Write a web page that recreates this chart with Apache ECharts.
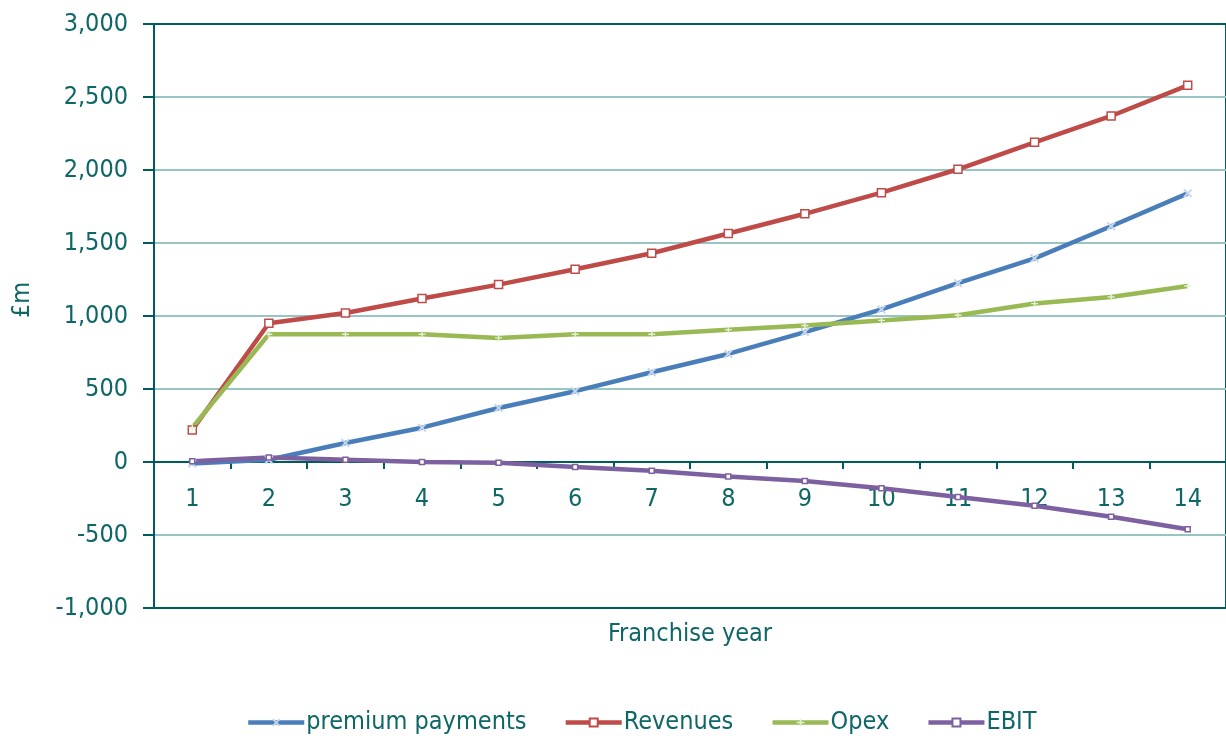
<!DOCTYPE html>
<html>
<head>
<meta charset="utf-8">
<script src="https://cdn.jsdelivr.net/npm/echarts@6/dist/echarts.min.js"></script>
<style>
html,body{margin:0;padding:0;background:#fff;}
#chart{width:1226px;height:736px;}
</style>
</head>
<body>
<div id="chart"></div>
<script>
const categories = ['1','2','3','4','5','6','7','8','9','10','11','12','13','14'];
const premiumPayments = [-10, 15, 130, 235, 370, 485, 615, 740, 890, 1045, 1225, 1395, 1615, 1840];
const revenues = [220, 950, 1020, 1120, 1215, 1320, 1430, 1565, 1700, 1845, 2005, 2190, 2370, 2580];
const opex = [235, 875, 875, 875, 850, 875, 875, 905, 935, 970, 1005, 1085, 1130, 1205];
const ebit = [5, 30, 15, 0, -5, -35, -60, -100, -130, -180, -240, -300, -375, -460];
const seriesNames = ['premium payments', 'Revenues', 'Opex', 'EBIT'];
const yMin = -1000, yMax = 3000, yStep = 500;

const FONT = '"DejaVu Sans Condensed", "DejaVu Sans", sans-serif';
const TEXT = '#0e6666';
const AXIS = '#005c5c';
const GRID = '#98c5c3';

const xSym = 'path://M0,1.5L1.5,0L5,3.5L8.5,0L10,1.5L6.5,5L10,8.5L8.5,10L5,6.5L1.5,10L0,8.5L3.5,5Z';
const plusSym = 'path://M4,0L6,0L6,4L10,4L10,6L6,6L6,10L4,10L4,6L0,6L0,4L4,4Z';

function mk(name, data, color, symbol, size, fill) {
  return {
    name: name, type: 'line', data: data,
    symbol: symbol, symbolSize: size, showSymbol: true,
    lineStyle: {color: color, width: 4.5},
    itemStyle: {color: fill, borderColor: color, borderWidth: symbol.startsWith('path') ? 0 : 1.5},
    color: color,
    z: 3
  };
}

const nLines = Math.round((yMax - yMin) / yStep) + 1;
const splitColors = [];
for (let i = 0; i < nLines; i++) splitColors.push(i === 0 || i === nLines - 1 ? AXIS : GRID);

const chart = echarts.init(document.getElementById('chart'), null, {renderer: 'canvas'});
chart.setOption({
  animation: false,
  backgroundColor: '#ffffff',
  grid: {left: 154, right: 0, top: 24, bottom: 128, containLabel: false, outerBoundsMode: 'none',
    show: true, borderColor: AXIS, borderWidth: 2, backgroundColor: 'transparent'},
  xAxis: {
    type: 'category', data: categories, boundaryGap: true,
    axisLine: {show: true, onZero: true, lineStyle: {color: AXIS, width: 2}},
    axisTick: {show: true, length: 7, lineStyle: {color: AXIS, width: 2}},
    axisLabel: {color: TEXT, fontFamily: FONT, fontSize: 25, margin: -121},
    name: 'Franchise year', nameLocation: 'middle', nameGap: 14,
    nameTextStyle: {color: TEXT, fontFamily: FONT, fontSize: 25},
    splitLine: {show: false}
  },
  yAxis: {
    type: 'value', min: yMin, max: yMax, interval: yStep,
    axisLine: {show: true, lineStyle: {color: AXIS, width: 2}},
    axisTick: {show: true, length: 11, lineStyle: {color: AXIS, width: 2}},
    axisLabel: {color: TEXT, fontFamily: FONT, fontSize: 25, margin: 26,
      formatter: v => v.toLocaleString('en-US')},
    splitLine: {show: true, lineStyle: {color: splitColors, width: 2}},
    name: '£m', nameLocation: 'middle', nameGap: 119, nameRotate: 90,
    nameTextStyle: {color: TEXT, fontFamily: FONT, fontSize: 25, padding: [0, 0, 0, 32]}
  },
  legend: {
    top: 705, left: 241, itemWidth: 56, itemHeight: 10, itemGap: 37,
    data: seriesNames,
    lineStyle: {width: 4.5},
    textStyle: {color: TEXT, fontFamily: FONT, fontSize: 25, padding: [0,0,0,-3]}
  },
  series: [
    mk(seriesNames[0], premiumPayments, '#4a7ebb', xSym, 9, '#c5d7ee'),
    mk(seriesNames[1], revenues, '#be4b48', 'rect', 8, '#ffffff'),
    mk(seriesNames[2], opex, '#98b954', plusSym, 7, '#e6f0d4'),
    mk(seriesNames[3], ebit, '#7d60a0', 'rect', 5, '#ffffff')
  ]
});
</script>
</body>
</html>
